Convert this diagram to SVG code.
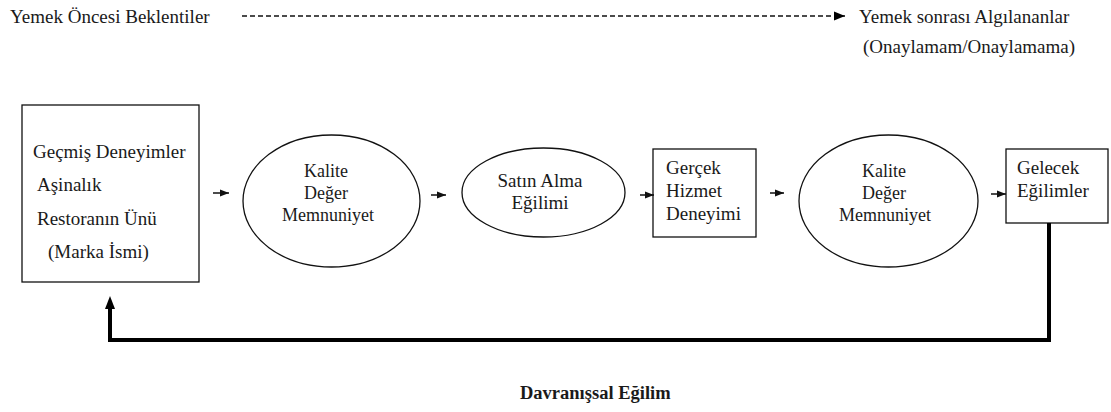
<svg xmlns="http://www.w3.org/2000/svg" width="1111" height="412" viewBox="0 0 1111 412" font-family="'Liberation Serif', 'DejaVu Serif', serif">
  <style>
    text { font-family: 'Liberation Serif', 'DejaVu Serif', serif; fill: #1a1a1a; font-size: 19px; }
    .ell text { font-size: 18px; }
    .shape { fill: #ffffff; stroke: #111; stroke-width: 1.3; }
    .flow { stroke: #111; stroke-width: 1.5; fill: none; }
    .dash { stroke: #111; stroke-width: 1.3; stroke-dasharray: 5 3; fill: none; }
    .loop { stroke: #000; stroke-width: 4; fill: none; }
    .title { font-weight: bold; font-size: 18.5px; }
  </style>
  <defs>
    <marker id="head" viewBox="0 0 10 10" refX="10" refY="5" markerWidth="9" markerHeight="9" markerUnits="userSpaceOnUse" orient="auto">
      <path d="M0,1 L10,5 L0,9 z" fill="#111"/>
    </marker>
    <marker id="headBig" viewBox="0 0 10 10" refX="10" refY="5" markerWidth="13" markerHeight="11" markerUnits="userSpaceOnUse" orient="auto">
      <path d="M0,1 L10,5 L0,9 z" fill="#000"/>
    </marker>
  </defs>

  <rect width="1111" height="412" fill="#ffffff"/>

  <!-- timeline header -->
  <g id="header">
    <text x="10" y="23">Yemek Öncesi Beklentiler</text>
    <line class="dash" x1="242" y1="16" x2="845" y2="16" marker-end="url(#headBig)"/>
    <text x="859" y="23">Yemek sonrası Algılananlar</text>
    <text x="863" y="53">(Onaylamam/Onaylamama)</text>
  </g>

  <!-- nodes -->
  <g id="node-gecmis">
    <rect class="shape" x="22" y="105" width="177" height="177"/>
    <text x="33" y="158">Geçmiş Deneyimler</text>
    <text x="37" y="191">Aşinalık</text>
    <text x="37" y="225">Restoranın Ünü</text>
    <text x="48" y="258">(Marka İsmi)</text>
  </g>

  <g id="node-kalite1" class="ell">
    <ellipse class="shape" cx="331.5" cy="201" rx="88.5" ry="66"/>
    <text x="326" y="177" text-anchor="middle">Kalite</text>
    <text x="326" y="199" text-anchor="middle">Değer</text>
    <text x="328" y="221" text-anchor="middle">Memnuniyet</text>
  </g>

  <g id="node-satin">
    <ellipse class="shape" cx="543.5" cy="192.5" rx="81.5" ry="44.5"/>
    <text x="540" y="187" text-anchor="middle">Satın Alma</text>
    <text x="540" y="209" text-anchor="middle">Eğilimi</text>
  </g>

  <g id="node-gercek">
    <rect class="shape" x="653" y="149" width="103" height="88"/>
    <text x="666" y="174">Gerçek</text>
    <text x="666" y="197">Hizmet</text>
    <text x="666" y="220">Deneyimi</text>
  </g>

  <g id="node-kalite2" class="ell">
    <ellipse class="shape" cx="888.5" cy="201" rx="89.5" ry="66"/>
    <text x="884" y="177" text-anchor="middle">Kalite</text>
    <text x="884" y="199" text-anchor="middle">Değer</text>
    <text x="885" y="221" text-anchor="middle">Memnuniyet</text>
  </g>

  <g id="node-gelecek">
    <rect class="shape" x="1006" y="149" width="102" height="74"/>
    <text x="1017" y="174">Gelecek</text>
    <text x="1017" y="197">Eğilimler</text>
  </g>

  <!-- connectors -->
  <g id="connectors">
    <line class="flow" x1="213" y1="193" x2="229" y2="193" marker-end="url(#head)"/>
    <line class="flow" x1="431" y1="195" x2="446" y2="195" marker-end="url(#head)"/>
    <line class="flow" x1="640" y1="195" x2="654" y2="195" marker-end="url(#head)"/>
    <line class="flow" x1="770" y1="193" x2="784" y2="193" marker-end="url(#head)"/>
    <line class="flow" x1="991" y1="194" x2="1006" y2="194" marker-end="url(#head)"/>
    <polyline class="loop" points="1049,223 1049,340 110,340 110,309"/>
    <path d="M110,296 L115,309 L105,309 z" fill="#000"/>
  </g>

  <text class="title" x="520" y="399">Davranışsal Eğilim</text>
</svg>
